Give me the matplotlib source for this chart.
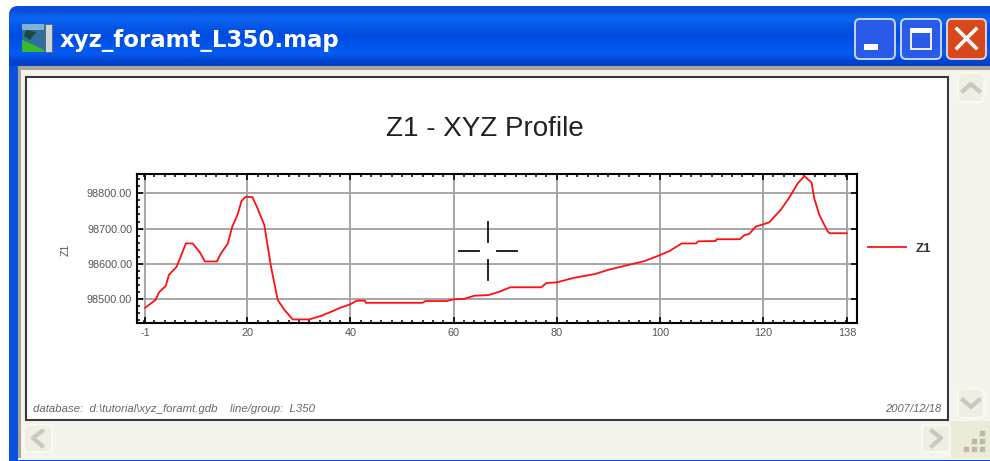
import numpy as np
import matplotlib
matplotlib.use("Agg")
import matplotlib.pyplot as plt
from matplotlib.patches import Rectangle, FancyBboxPatch, Polygon
from matplotlib.ticker import FixedLocator

plt.rcParams['font.family'] = ['Liberation Sans', 'DejaVu Sans']

window_title = "xyz_foramt_L350.map"
chart_title = "Z1 - XYZ Profile"
series_name = "Z1"
footer_left = "database:  d:\\tutorial\\xyz_foramt.gdb    line/group:  L350"
footer_right = "2007/12/18"

x_tick_pos = [0.2, 20, 40, 60, 80, 100, 120, 136.3]
x_tick_labels = ["-1", "20", "40", "60", "80", "100", "120", "138"]
y_ticks = [98500, 98600, 98700, 98800]
y_tick_labels = ["98500.00", "98600.00", "98700.00", "98800.00"]

fid = [0.2, 2.2, 2.9, 4.2, 4.8, 6.3, 8.1, 9.4, 10.7, 11.8, 14.1, 14.9, 16.2, 17.1, 18.1, 18.9,
       19.7, 21, 22, 23.3, 24.6, 25.9, 27.2, 28.8, 32, 34.3, 36.8, 38, 40, 41.2, 42.8, 43,
       54, 54.5, 58.7, 60, 62, 64, 66.8, 69, 71, 77, 78, 80, 83.4, 87.3, 89.9, 93.8, 97,
       100, 101.9, 104.2, 107, 107.4, 110.8, 111, 115.5, 116.3, 117.3, 118.6, 120, 121.2,
       123.4, 125, 126.7, 128, 129.4, 129.9, 130.9, 132.5, 132.9, 136.2]
z1 = [98476, 98498, 98520, 98538, 98569, 98592, 98658, 98658, 98635, 98607, 98607, 98630,
      98657, 98706, 98739, 98779, 98790, 98789, 98757, 98710, 98592, 98498, 98470, 98443,
      98443, 98453, 98468, 98476, 98486, 98496, 98496, 98490, 98490, 98495, 98495, 98500,
      98501, 98510, 98512, 98522, 98534, 98534, 98546, 98548, 98561, 98571, 98583, 98597,
      98608, 98625, 98637, 98658, 98658, 98664, 98665, 98670, 98670, 98681, 98685, 98706,
      98712, 98718, 98753, 98786, 98828, 98849, 98830, 98786, 98739, 98692, 98687, 98687]

W, H = 990, 461
fig = plt.figure(figsize=(W / 100, H / 100), dpi=100, facecolor="white")

# window chrome, in pixel coordinates
bg = fig.add_axes([0, 0, 1, 1], zorder=0)
bg.set_xlim(0, W)
bg.set_ylim(H, 0)
bg.axis("off")

grad = np.array([[0.04, 0.30, 0.86], [0.05, 0.40, 0.95], [0.02, 0.33, 0.90],
                 [0.00, 0.30, 0.88], [0.00, 0.33, 0.92], [0.02, 0.36, 0.95],
                 [0.00, 0.26, 0.80]]).reshape(-1, 1, 3)
bg.add_patch(FancyBboxPatch((9, 8), W + 30, 80, boxstyle="round,pad=0,rounding_size=9",
                            fc="#0a4fe0", ec="none", zorder=1))
im = bg.imshow(grad, extent=(9, W, 66, 6), aspect="auto", interpolation="bilinear", zorder=1.5)
im.set_clip_path(FancyBboxPatch((9, 6), W + 30, 80, boxstyle="round,pad=0,rounding_size=9",
                                transform=bg.transData))
bg.set_xlim(0, W)
bg.set_ylim(H, 0)
bg.add_patch(Rectangle((9, 60), 9, H - 60, fc="#0a50e0", ec="none", zorder=1))
bg.add_patch(Rectangle((9, 457), W, 5, fc="#0a50e0", ec="none", zorder=1))
bg.add_patch(Rectangle((18, 66), W, 394, fc="#f5f4ec", ec="none", zorder=2))
bg.add_patch(Rectangle((18, 66), W, 4, fc="#a9a597", ec="none", zorder=2.1))
bg.add_patch(Rectangle((18, 66), 3, 392, fc="#a9a597", ec="none", zorder=2.1))
bg.add_patch(Rectangle((26, 77), 922, 343, fc="white", ec="#383838", lw=1.5, zorder=2.2))

def button(x0, y0, w, h, fc, ec="white", lw=1.2, z=3):
    bg.add_patch(FancyBboxPatch((x0, y0), w, h, boxstyle="round,pad=0,rounding_size=5",
                                fc=fc, ec=ec, lw=lw, zorder=z))

# title bar buttons
button(855, 19, 40, 40, "#2a5be8", "#c8d6f5", 1.4)
button(901, 19, 40, 40, "#2a5be8", "#c8d6f5", 1.4)
button(947, 19, 39, 40, "#d8481c", "#e8cfc8", 1.4)
bg.add_patch(Rectangle((864, 44), 14, 6, fc="white", ec="none", zorder=4))
bg.add_patch(Rectangle((911, 29), 20, 20, fc="none", ec="white", lw=1.3, zorder=4))
bg.add_patch(Rectangle((911, 28), 20, 5, fc="white", ec="none", zorder=4))
bg.plot([957, 976], [29, 48], color="white", lw=2.6, zorder=4)
bg.plot([976, 957], [29, 48], color="white", lw=2.6, zorder=4)

# title bar icon
bg.add_patch(Rectangle((22, 24), 30, 28, fc="#2f6f9f", ec="none", zorder=3))
bg.add_patch(Rectangle((22, 24), 22, 6, fc="#7fb0d8", ec="none", zorder=3.1))
bg.add_patch(Polygon([[22, 52], [22, 40], [32, 44], [44, 50], [44, 52]], fc="#39b82c", ec="none", zorder=3.2))
bg.add_patch(Polygon([[26, 30], [36, 32], [30, 40], [24, 36]], fc="#1c4a38", ec="none", zorder=3.2))
bg.add_patch(Rectangle((45, 24), 7, 28, fc="#cfd4d6", ec="#555555", lw=0.5, zorder=3.3))
bg.text(60, 41, window_title, color="white", fontsize=16.5, fontweight="bold",
        family="DejaVu Sans", va="center", ha="left", zorder=5)

# scrollbars
button(958, 73, 26, 29, "#eeeee2", "#fbfbf4", 1.2)
button(958, 389, 26, 29, "#eeeee2", "#fbfbf4", 1.2)
button(24, 425, 28, 27, "#eeeee2", "#fbfbf4", 1.2)
button(922, 425, 28, 27, "#eeeee2", "#fbfbf4", 1.2)
chev = dict(color="#c9c9bb", lw=3, zorder=4)
bg.plot([963, 971, 979], [91, 84, 91], **chev)
bg.plot([963, 971, 979], [400, 407, 400], **chev)
bg.plot([42, 33, 42], [431, 438, 446], **chev)
bg.plot([932, 941, 932], [431, 438, 446], **chev)
bg.add_patch(Rectangle((951, 421), W, 37, fc="#ecead8", ec="none", zorder=2.5))
grip_x = [982, 982, 982, 974, 974, 966]
grip_y = [433, 441, 449, 441, 449, 449]
bg.scatter(grip_x, grip_y, s=10, marker="s", color="#bdbaa6", zorder=4)

# chart
left, right, top, bottom = 137, 857, 174, 323.3
ax = fig.add_axes([left / W, 1 - bottom / H, (right - left) / W, (bottom - top) / H], zorder=2)
ax.patch.set_alpha(0)
ax.set_xlim(-1.38, 138.2)
ax.set_ylim(98432, 98854.6)
ax.xaxis.set_major_locator(FixedLocator(x_tick_pos))
ax.set_xticklabels(x_tick_labels)
ax.set_yticks(y_ticks)
ax.set_yticklabels(y_tick_labels)
ax.xaxis.set_minor_locator(FixedLocator(list(range(0, 138, 2))))
ax.yaxis.set_minor_locator(FixedLocator(list(range(98440, 98860, 20))))
ax.grid(True, which="major", color="#a6a6a6", lw=1.4, zorder=1)
ax.tick_params(axis="both", which="major", direction="in", length=4, width=1.2, color="black",
               labelsize=7.8, labelcolor="#555555", top=True, right=True, pad=3.5)
ax.tick_params(axis="both", which="minor", direction="in", length=2, width=1.1, color="black",
               top=True, right=False)
for s in ax.spines.values():
    s.set_linewidth(1.5)
    s.set_color("black")
ax.plot(fid, z1, color="#ff1010", lw=1.3, label=series_name, zorder=3, solid_joinstyle="miter")
ax.set_ylabel(series_name, fontsize=7.6, color="#555555")
ax.yaxis.set_label_coords((71 - left) / (right - left), 0.49)
ax.set_title(chart_title, fontsize=20, color="#222222", x=(485 - left) / (right - left),
             pad=(top - 127 - 9) * 0.72)
leg = ax.legend(loc="center left", bbox_to_anchor=((868 - left) / (right - left), 0.50), frameon=False,
                handlelength=2.9, handletextpad=0.7, borderpad=0, borderaxespad=0,
                prop={"size": 9.5, "weight": "bold"})
leg.get_texts()[0].set_color("#333333")

# cursor cross and footers
for xs, ys in (([488.3, 488.3], [222, 242]), ([488.3, 488.3], [260, 280]),
               ([459, 479], [251, 251]), ([497, 517], [251, 251])):
    ax.plot(xs, ys, transform=bg.transData, color="#111111", lw=1.3, zorder=5, clip_on=False)
bg.text(33, 409, footer_left, fontsize=8.2, style="italic", color="#666666", va="center", ha="left", zorder=5)
bg.text(941, 409, footer_right, fontsize=8, style="italic", color="#666666", va="center", ha="right", zorder=5)

fig.savefig("out.png", dpi=100)
